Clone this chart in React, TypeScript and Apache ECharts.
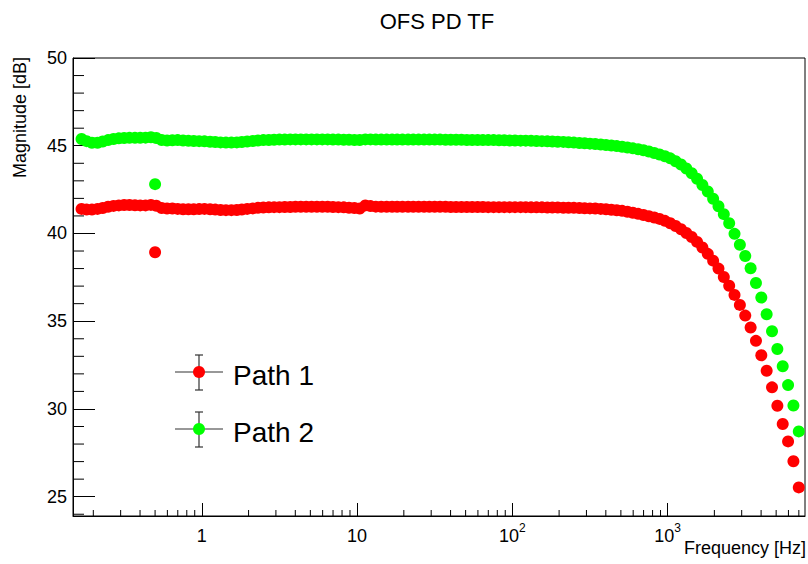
import React, { useEffect, useRef } from 'react';
import * as echarts from 'echarts';

// Frequencies [Hz] of the sweep (log spaced)
const FREQ = [
  0.168, 0.181, 0.196, 0.213, 0.230, 0.249, 0.270, 0.292, 0.316, 0.342, 0.371, 0.401, 0.434, 0.470, 0.509, 0.551, 0.597, 0.646, 0.699, 0.757, 0.820, 0.887, 0.961,
  1.04, 1.13, 1.22, 1.32, 1.43, 1.55, 1.68, 1.81, 1.96, 2.13, 2.30, 2.49, 2.70, 2.92, 3.16, 3.42, 3.71, 4.01, 4.34, 4.70, 5.09, 5.51, 5.97, 6.46, 6.99, 7.57, 8.20, 8.87, 9.61,
  10.4, 11.3, 12.2, 13.2, 14.3, 15.5, 16.8, 18.1, 19.6, 21.3, 23.0, 24.9, 27.0, 29.2, 31.6, 34.2, 37.1, 40.1, 43.4, 47.0, 50.9, 55.1, 59.7, 64.6, 69.9, 75.7, 82.0, 88.7, 96.1,
  104, 113, 122, 132, 143, 155, 168, 181, 196, 213, 230, 249, 270, 292, 316, 342, 371, 401, 434, 470, 509, 551, 597, 646, 699, 757, 820, 887, 961,
  1040, 1126, 1220, 1320, 1429, 1548, 1675, 1814, 1964, 2126, 2301, 2492, 2697, 2920, 3162, 3424, 3706, 4013, 4344, 4703, 5091, 5512, 5967, 6460, 6994,
];

const PATH1 = [
  41.40, 41.36, 41.36, 41.40, 41.45, 41.52, 41.57, 41.60, 41.62, 41.62, 41.61, 41.60, 41.60, 41.63, 41.58, 41.45, 41.42, 41.42, 41.40, 41.38, 41.38, 41.38, 41.39,
  41.40, 41.38, 41.36, 41.34, 41.33, 41.33, 41.34, 41.37, 41.40, 41.43, 41.46, 41.48, 41.49, 41.50, 41.50, 41.51, 41.51, 41.52, 41.52, 41.52, 41.52, 41.52, 41.52, 41.52, 41.51, 41.50, 41.49, 41.47, 41.45,
  41.42, 41.60, 41.56, 41.53, 41.52, 41.52, 41.52, 41.52, 41.52, 41.52, 41.52, 41.52, 41.52, 41.52, 41.52, 41.52, 41.52, 41.51, 41.51, 41.51, 41.51, 41.51, 41.51, 41.51, 41.50, 41.50, 41.50, 41.50, 41.50,
  41.50, 41.50, 41.50, 41.49, 41.49, 41.49, 41.48, 41.48, 41.48, 41.47, 41.47, 41.46, 41.45, 41.44, 41.43, 41.42, 41.40, 41.38, 41.35, 41.32, 41.29, 41.24, 41.18, 41.12, 41.05, 40.98, 40.91, 40.83, 40.72,
  40.58, 40.43, 40.24, 40.03, 39.80, 39.52, 39.20, 38.84, 38.45, 38.00, 37.52, 37.02, 36.50, 35.93, 35.32, 34.64, 33.88, 33.06, 32.18, 31.23, 30.18, 29.14, 28.15, 27.02, 25.53,
];

const PATH2 = [
  45.38, 45.26, 45.17, 45.17, 45.24, 45.32, 45.38, 45.42, 45.44, 45.45, 45.45, 45.45, 45.46, 45.48, 45.44, 45.33, 45.30, 45.31, 45.32, 45.30, 45.28, 45.27, 45.26,
  45.25, 45.23, 45.21, 45.19, 45.18, 45.18, 45.19, 45.21, 45.24, 45.27, 45.30, 45.32, 45.33, 45.34, 45.35, 45.35, 45.36, 45.36, 45.36, 45.36, 45.36, 45.36, 45.36, 45.36, 45.35, 45.35, 45.34, 45.34, 45.33,
  45.33, 45.36, 45.36, 45.35, 45.35, 45.35, 45.35, 45.35, 45.35, 45.35, 45.35, 45.35, 45.35, 45.35, 45.35, 45.35, 45.34, 45.34, 45.34, 45.34, 45.33, 45.33, 45.33, 45.32, 45.32, 45.32, 45.31, 45.31, 45.30,
  45.30, 45.29, 45.29, 45.28, 45.27, 45.26, 45.25, 45.24, 45.23, 45.22, 45.20, 45.18, 45.16, 45.14, 45.12, 45.10, 45.07, 45.04, 45.01, 44.98, 44.94, 44.90, 44.85, 44.80, 44.74, 44.67, 44.59, 44.50, 44.40,
  44.28, 44.12, 43.93, 43.70, 43.43, 43.12, 42.76, 42.39, 41.98, 41.55, 41.10, 40.58, 39.98, 39.36, 38.72, 38.02, 37.18, 36.35, 35.40, 34.43, 33.42, 32.43, 31.36, 30.20, 28.72,
];

// extra single measurement at 0.5 Hz
const OUTLIER_FREQ = [0.5];
const PATH1_OUTLIER = [38.93];
const PATH2_OUTLIER = [42.81];

const SERIES_NAMES = ['Path 1', 'Path 2'];
const SERIES_COLORS = ['#ff0000', '#00ff00'];

const TITLE = 'OFS PD TF';
const X_TITLE = 'Frequency [Hz]';
const Y_TITLE = 'Magnitude [dB]';

const X_MIN = 0.148;
const X_MAX = 7670;
const Y_MIN = 23.9;
const Y_MAX = 50;

const X_MINOR_TICKS = [
  0.2, 0.3, 0.4, 0.5, 0.6, 0.7, 0.8, 0.9,
  2, 3, 4, 5, 6, 7, 8, 9,
  20, 30, 40, 50, 60, 70, 80, 90,
  200, 300, 400, 500, 600, 700, 800, 900,
  2000, 3000, 4000, 5000, 6000, 7000,
];
const Y_MINOR_TICKS = [24, 26, 27, 28, 29, 31, 32, 33, 34, 36, 37, 38, 39, 41, 42, 43, 44, 46, 47, 48, 49];

const FONT = '"Liberation Sans", Arial, Helvetica, sans-serif';

function tickRenderer(dir: 'x' | 'y', len: number) {
  return (params: any, api: any) => {
    const p = api.coord([api.value(0), api.value(1)]);
    const shape =
      dir === 'x'
        ? { x1: p[0], y1: p[1], x2: p[0], y2: p[1] - len }
        : { x1: p[0], y1: p[1], x2: p[0] + len, y2: p[1] };
    return { type: 'line', shape, style: { stroke: '#000', lineWidth: 1 } };
  };
}

function legendItems() {
  const rows = [372, 429];
  const els: any[] = [];
  SERIES_NAMES.forEach((name, k) => {
    const cy = rows[k];
    const stroke = { stroke: '#333', lineWidth: 1.2 };
    els.push({ type: 'line', shape: { x1: 175, y1: cy, x2: 223, y2: cy }, style: stroke });
    els.push({ type: 'line', shape: { x1: 199, y1: cy - 17, x2: 199, y2: cy + 18 }, style: stroke });
    els.push({ type: 'line', shape: { x1: 195, y1: cy - 17, x2: 203, y2: cy - 17 }, style: stroke });
    els.push({ type: 'line', shape: { x1: 195, y1: cy + 18, x2: 203, y2: cy + 18 }, style: stroke });
    els.push({ type: 'circle', shape: { cx: 199, cy, r: 6 }, style: { fill: SERIES_COLORS[k] } });
    els.push({
      type: 'text',
      x: 233,
      y: cy + 3,
      style: {
        text: name,
        fontSize: 28,
        fontFamily: FONT,
        fill: '#000',
        align: 'left',
        textAlign: 'left',
        verticalAlign: 'middle',
        textVerticalAlign: 'middle',
      },
    });
  });
  return els;
}

export default function App() {
  const ref = useRef<HTMLDivElement>(null);

  useEffect(() => {
    if (!ref.current) return;
    const chart = echarts.init(ref.current, null, { renderer: 'svg' });

    const s1 = FREQ.map((f, i) => [f, PATH1[i]]).concat(OUTLIER_FREQ.map((f, i) => [f, PATH1_OUTLIER[i]]));
    const s2 = FREQ.map((f, i) => [f, PATH2[i]]).concat(OUTLIER_FREQ.map((f, i) => [f, PATH2_OUTLIER[i]]));

    chart.setOption({
      animation: false,
      backgroundColor: '#ffffff',
      textStyle: { fontFamily: FONT },
      grid: {
        left: 73,
        top: 58,
        width: 732,
        height: 458,
        show: true,
        borderColor: '#000',
        borderWidth: 1,
        backgroundColor: 'transparent',
      },
      xAxis: {
        type: 'log',
        logBase: 10,
        min: X_MIN,
        max: X_MAX,
        splitLine: { show: false },
        axisLine: { show: true, lineStyle: { color: '#000', width: 1 } },
        axisTick: { show: true, inside: true, length: 13, interval: 0, lineStyle: { color: '#000' } },
        axisLabel: {
          show: true,
          interval: 0,
          showMinLabel: false,
          showMaxLabel: false,
          margin: 6,
          color: '#000',
          formatter: (v: number) => {
            const e = Math.round(Math.log10(v));
            if (e === 0) return '{b|1}';
            if (e === 1) return '{b|10}';
            return '{b|10}{s|' + e + '}';
          },
          rich: {
            b: { fontSize: 18, lineHeight: 28, fontFamily: FONT, color: '#000' },
            s: { fontSize: 12, lineHeight: 12, verticalAlign: 'top', fontFamily: FONT, color: '#000' },
          },
        },
      },
      yAxis: {
        type: 'value',
        min: Y_MIN,
        max: Y_MAX,
        splitNumber: 5,
        splitLine: { show: false },
        axisLine: { show: true, lineStyle: { color: '#000', width: 1 } },
        axisTick: { show: true, inside: true, length: 22, lineStyle: { color: '#000' } },
        axisLabel: {
          showMinLabel: false,
          margin: 6,
          fontSize: 18,
          fontFamily: FONT,
          color: '#000',
        },
      },
      series: [
        {
          name: SERIES_NAMES[0],
          type: 'scatter',
          symbol: 'circle',
          symbolSize: 12,
          itemStyle: { color: SERIES_COLORS[0], opacity: 1 },
          data: s1,
        },
        {
          name: SERIES_NAMES[1],
          type: 'scatter',
          symbol: 'circle',
          symbolSize: 12,
          itemStyle: { color: SERIES_COLORS[1], opacity: 1 },
          data: s2,
        },
        {
          type: 'custom',
          silent: true,
          clip: false,
          data: X_MINOR_TICKS.map((v) => [v, Y_MIN]),
          renderItem: tickRenderer('x', 6),
        },
        {
          type: 'custom',
          silent: true,
          clip: false,
          data: Y_MINOR_TICKS.map((v) => [X_MIN, v]),
          renderItem: tickRenderer('y', 11),
        },
      ],
      graphic: [
        {
          type: 'text',
          x: 437,
          y: 21.5,
          style: {
            text: TITLE,
            fontSize: 22,
            fontFamily: FONT,
            fill: '#000',
            align: 'center',
            textAlign: 'center',
            verticalAlign: 'middle',
            textVerticalAlign: 'middle',
          },
        },
        {
          type: 'text',
          x: 806,
          y: 548,
          style: {
            text: X_TITLE,
            fontSize: 18,
            fontFamily: FONT,
            fill: '#000',
            align: 'right',
            textAlign: 'right',
            verticalAlign: 'middle',
            textVerticalAlign: 'middle',
          },
        },
        {
          type: 'text',
          x: 20,
          y: 57,
          rotation: Math.PI / 2,
          style: {
            text: Y_TITLE,
            fontSize: 18,
            fontFamily: FONT,
            fill: '#000',
            align: 'right',
            textAlign: 'right',
            verticalAlign: 'middle',
            textVerticalAlign: 'middle',
          },
        },
        ...legendItems(),
      ],
    });

    return () => chart.dispose();
  }, []);

  return <div ref={ref} style={{ position: 'fixed', left: 0, top: 0, width: 808, height: 564 }} />;
}
